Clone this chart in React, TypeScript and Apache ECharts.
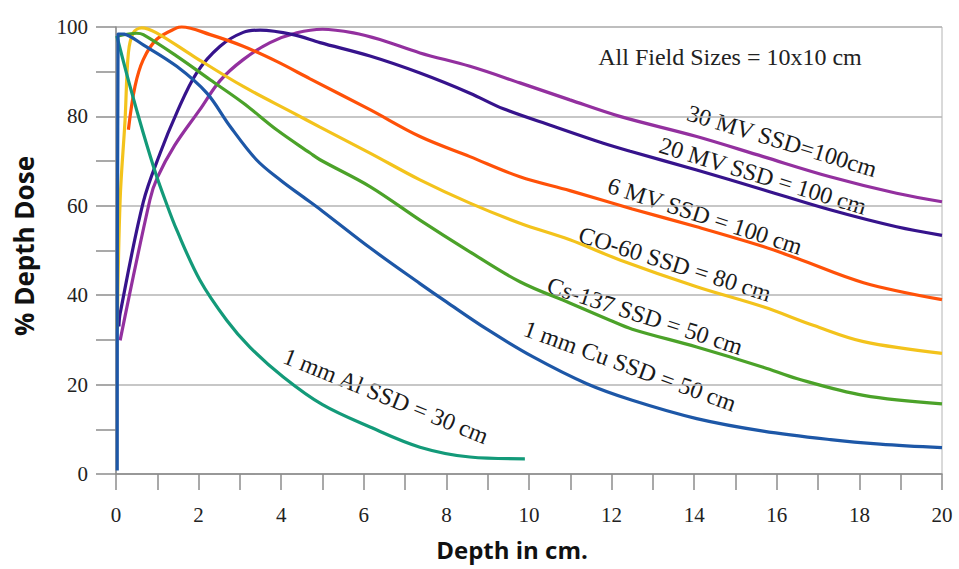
import React, { useEffect, useRef } from "react";
import * as echarts from "echarts";

const xTicks = { min: 0, max: 20, step: 2 };
const yTicks = { min: 0, max: 100, step: 20 };

const al1mm: number[][] = [[0.02,98],[0.34,86.7],[0.66,76.3],[0.97,67],[1.19,61.3],[1.47,54.6],[2.03,43.4],[2.68,34.4],[3.24,28.4],[4.05,21.7],[5.0,15.5],[6.15,10.5],[7.36,6.0],[8.57,3.8],[9.9,3.4]];
const cu1mm: number[][] = [[0.03,0.8],[0.05,98.5],[0.2,98.4],[0.66,96],[1.47,91.2],[2.2,85.2],[2.76,77.8],[3.4,70.3],[4.0,65.6],[4.53,62],[5.0,58.8],[6.15,50.6],[7.36,42.6],[8.0,38.5],[8.98,32.4],[10.1,26.2],[11.4,20.2],[12.5,16.5],[14.06,12.4],[15.67,9.6],[17.3,7.7],[18.5,6.7],[20,5.9]];
const cs137: number[][] = [[0.05,98],[0.5,98.6],[0.66,98.3],[1.47,93.5],[2.28,88.2],[3.08,83],[3.89,77],[4.7,71.8],[4.94,70.3],[6.15,64.3],[7.36,56.8],[8.5,50.1],[9.78,43],[11.0,38.2],[11.96,34.4],[12.5,32.4],[14.06,28.4],[15.67,23.9],[16.5,21.3],[18.1,17.6],[20,15.7]];
const co60: number[][] = [[0.03,32.5],[0.1,61.3],[0.22,79.3],[0.3,94.2],[0.42,98.7],[0.62,99.8],[0.98,98.7],[1.87,93.5],[3.08,86.7],[4.29,80.8],[4.94,77.6],[6.15,71.8],[7.36,65.8],[8.57,60.6],[9.78,56.1],[10.99,52.4],[12.2,47.9],[14.06,41.9],[15.67,37.4],[16.9,33.2],[18.1,29.6],[20,27]];
const mv6: number[][] = [[0.3,77],[0.46,86.7],[0.66,92.7],[0.98,97.2],[1.47,99.8],[1.59,100],[2.28,98.3],[3.08,95.7],[3.89,92.3],[4.7,88.4],[6.15,81.5],[7.36,75.5],[8.57,71],[9.78,66.5],[10.99,63.4],[12.5,59.3],[14.06,55.3],[15.67,50.9],[16.5,48.2],[18.1,42.8],[20,39]];
const mv20: number[][] = [[0.07,33],[0.1,35.9],[0.66,60.8],[1.07,71.8],[1.47,80.8],[1.95,89.7],[2.52,95.7],[3.08,98.8],[3.49,99.3],[4.29,98.3],[4.94,96.5],[6.15,93.5],[7.36,89.7],[8.57,85.2],[9.38,81.7],[10.59,77.8],[11.8,74],[12.45,72.2],[14.06,68],[15.67,63.6],[17.29,59.1],[18.9,55.3],[20,53.4]];
const mv30: number[][] = [[0.1,29.9],[0.82,61.3],[1.0,66.3],[1.42,73.5],[2.03,81.5],[2.52,88],[3.08,92.7],[3.73,96.5],[4.38,98.7],[5.0,99.5],[5.75,98.7],[6.39,97.2],[7.36,94.2],[8.57,91.2],[9.78,87.5],[10.99,83.7],[12.2,80],[14.06,75.5],[15.67,71],[17.29,66.5],[18.9,62.8],[20,60.9]];

const seriesNames = ["30 MV SSD=100cm", "20 MV SSD = 100 cm", "6 MV SSD = 100 cm", "CO-60 SSD = 80 cm", "Cs-137 SSD = 50 cm", "1 mm Al SSD = 30 cm", "1 mm Cu SSD = 50 cm"];
const seriesData = [mv30, mv20, mv6, co60, cs137, al1mm, cu1mm];
const seriesColors = ["#93309f", "#36138c", "#ff5108", "#f3c31c", "#4ba229", "#139a79", "#1d57a7"];

const SERIF = "'Liberation Serif', 'Times New Roman', serif";
const SANS = "'Open Sans', 'Noto Sans', sans-serif";

const labelPlacements = [
  { x: 782, y: 141, r: -17 },
  { x: 763, y: 176, r: -17 },
  { x: 705, y: 216, r: -18 },
  { x: 675, y: 264, r: -17.5 },
  { x: 645, y: 316, r: -18 },
  { x: 386, y: 396, r: -22 },
  { x: 630, y: 366, r: -20 },
];

export default function App() {
  const ref = useRef<HTMLDivElement>(null);
  useEffect(() => {
    if (!ref.current) return;
    const chart = echarts.init(ref.current, undefined, { renderer: "svg" });
    const axisGray = "#8c8c8c";
    chart.setOption({
      animation: false,
      backgroundColor: "#ffffff",
      grid: { left: 116, right: 17, top: 27, bottom: 95, show: true, borderColor: "#b4b4b4", borderWidth: 1 },
      xAxis: {
        type: "value", min: xTicks.min, max: xTicks.max, interval: xTicks.step,
        axisLine: { show: true, lineStyle: { color: axisGray, width: 1.5 } },
        axisTick: { show: true, length: 16, lineStyle: { color: axisGray, width: 1.5 } },
        minorTick: { show: true, splitNumber: 2, length: 16, lineStyle: { color: axisGray, width: 1.5 } },
        splitLine: { show: false },
        axisLabel: { margin: 30, fontFamily: SERIF, fontSize: 21, color: "#222" },
      },
      yAxis: {
        type: "value", min: yTicks.min, max: yTicks.max, interval: yTicks.step,
        axisLine: { show: true, lineStyle: { color: axisGray, width: 1.5 } },
        axisTick: { show: true, length: 20, lineStyle: { color: axisGray, width: 1.5 } },
        minorTick: { show: true, splitNumber: 2, length: 20, lineStyle: { color: axisGray, width: 1.5 } },
        splitLine: { show: true, lineStyle: { color: "#b4b4b4", width: 1.5 } },
        axisLabel: { margin: 28, fontFamily: SERIF, fontSize: 21, color: "#222" },
      },
      series: seriesData.map((d, i) => ({
        type: "line", name: seriesNames[i], data: d, showSymbol: false, symbol: "none",
        smooth: 0.35, clip: false,
        lineStyle: { color: seriesColors[i], width: 3.2 },
      })),
      graphic: [
        {
          type: "text", x: 730, y: 57,
          style: { text: "All Field Sizes = 10x10 cm", font: `24px ${SERIF}`, fill: "#222", align: "center", verticalAlign: "middle" },
        },
        {
          type: "text", x: 512, y: 549,
          style: { text: "Depth in cm.", font: `bold 24px ${SANS}`, fill: "#111", align: "center", verticalAlign: "middle" },
        },
        {
          type: "text", x: 24, y: 246, rotation: Math.PI / 2,
          style: { text: "% Depth Dose", font: `bold 26px ${SANS}`, fill: "#111", align: "center", verticalAlign: "middle" },
        },
        ...seriesNames.map((n, i) => ({
          type: "text", x: labelPlacements[i].x, y: labelPlacements[i].y,
          rotation: (labelPlacements[i].r * Math.PI) / 180,
          style: { text: n, font: `24px ${SERIF}`, fill: "#1a1a1a", align: "center", verticalAlign: "middle" },
        })),
      ],
    });
    return () => chart.dispose();
  }, []);
  return <div ref={ref} style={{ position: "fixed", left: 0, top: 0, width: 959, height: 569 }} />;
}
